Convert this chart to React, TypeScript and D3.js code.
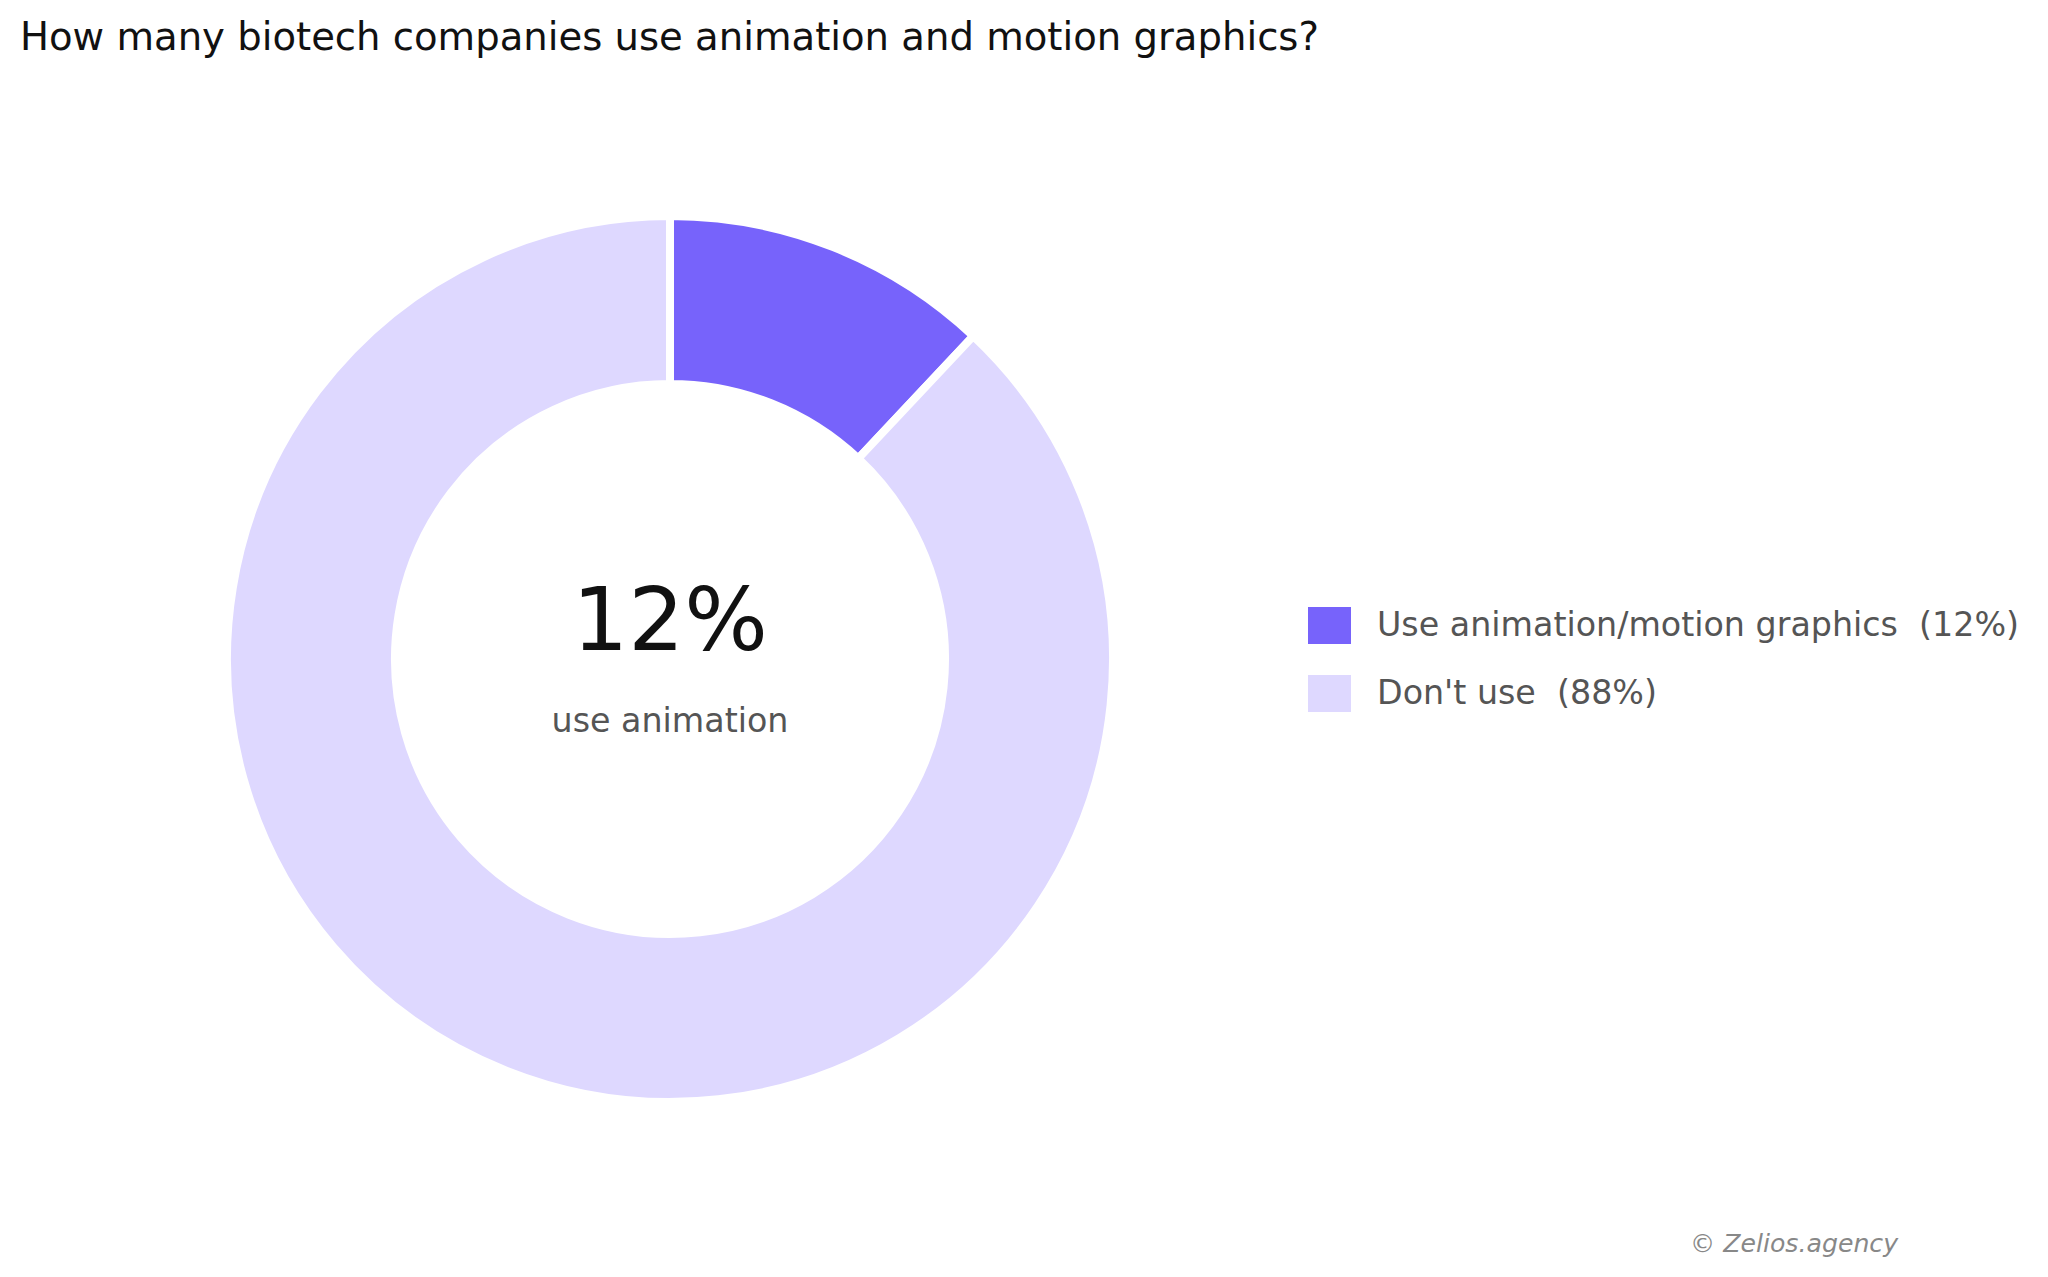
import React from "react";
import * as d3 from "d3";

const categories = ["Use animation/motion graphics", "Don't use"];
const values = [12, 88];
const colors = ["#7763FB", "#DED8FF"];
const title = "How many biotech companies use animation and motion graphics?";
const centerValue = "12%";
const centerLabel = "use animation";
const credit = "© Zelios.agency";

const W = 2048;
const H = 1277;
const FONT = "'DejaVu Sans', sans-serif";

export default function App() {
  const cx = 670;
  const cy = 659;
  const outerR = 443;
  const innerR = 275;

  const pie = d3
    .pie<number>()
    .sort(null)
    .startAngle(0)
    .endAngle(2 * Math.PI)
    .value((d) => d);
  const arcs = pie(values);
  const arc = d3.arc<d3.PieArcDatum<number>>().innerRadius(innerR).outerRadius(outerR);

  const legendY = d3.scaleBand<string>().domain(categories).range([590, 726]).paddingInner(0);

  return (
    <svg
      width={W}
      height={H}
      viewBox={`0 0 ${W} ${H}`}
      style={{ position: "absolute", left: 0, top: 0, background: "#fff" }}
    >
      <rect x={0} y={0} width={W} height={H} fill="#fff" />
      <text x={20} y={50} fontFamily={FONT} fontSize={38.6} fill="#111">
        {title}
      </text>
      <g transform={`translate(${cx},${cy})`}>
        {arcs.map((a, i) => (
          <path key={i} d={arc(a) || ""} fill={colors[i]} stroke="#fff" strokeWidth={8} strokeLinejoin="miter" />
        ))}
        <text x={0} y={-9} textAnchor="middle" fontFamily={FONT} fontSize={88} fill="#111">
          {centerValue}
        </text>
        <text x={0} y={73} textAnchor="middle" fontFamily={FONT} fontSize={33.3} fill="#555">
          {centerLabel}
        </text>
      </g>
      <g>
        {categories.map((c, i) => {
          const y0 = legendY(c)!;
          return (
            <g key={c}>
              <rect x={1308} y={y0 + 17} width={43} height={37} fill={colors[i]} />
              <text x={1377} y={y0 + 46} fontFamily={FONT} fontSize={33.3} fill="#555">
                {`${c}\u00a0\u00a0(${values[i]}%)`}
              </text>
            </g>
          );
        })}
      </g>
      <text x={1690} y={1252} fontFamily={FONT} fontStyle="italic" fontSize={25.2} fill="#888">
        {credit}
      </text>
    </svg>
  );
}
